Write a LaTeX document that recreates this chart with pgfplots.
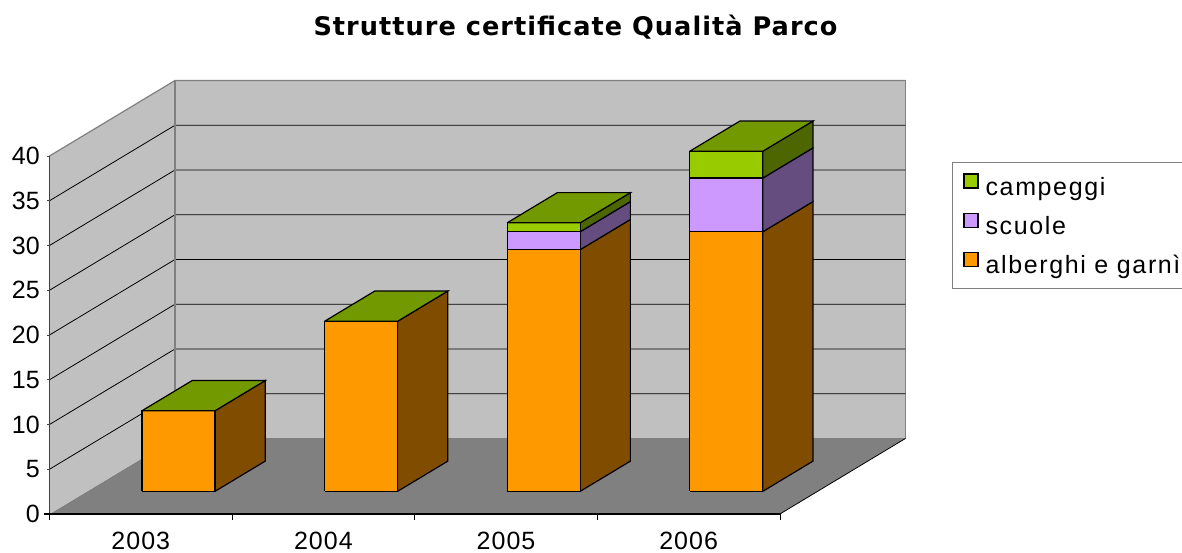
\documentclass[border=0pt]{standalone}
\usepackage{pgfplots}
\pgfplotsset{compat=1.18}
\usepackage{fontspec}
\setmainfont{Liberation Sans}
\newfontfamily\lblfont[LetterSpace=4]{Liberation Sans}
\newfontfamily\legfont[LetterSpace=6.5]{Liberation Sans}
\newfontfamily\titlefont[LetterSpace=4]{DejaVu Sans}
\definecolor{oF}{HTML}{FF9900}\definecolor{oS}{HTML}{804D00}
\definecolor{lF}{HTML}{CC99FF}\definecolor{lS}{HTML}{664D80}
\definecolor{gF}{HTML}{99CC00}\definecolor{gS}{HTML}{4D6600}\definecolor{gT}{HTML}{739900}
\definecolor{wall}{HTML}{C0C0C0}\definecolor{flr}{HTML}{808080}
% one stacked segment: x0, x1, z0, z1, front colour, side colour
\newcommand\seg[6]{%
  \addplot3[draw=black,line width=1.2pt,fill=#6,forget plot] coordinates {(#2,0.3,#3)(#2,0.7,#3)(#2,0.7,#4)(#2,0.3,#4)(#2,0.3,#3)};
  \addplot3[draw=black,line width=1.2pt,fill=#5,forget plot] coordinates {(#1,0.3,#3)(#2,0.3,#3)(#2,0.3,#4)(#1,0.3,#4)(#1,0.3,#3)};
}
% top of a bar: x0, x1, z
\newcommand\topf[3]{%
  \addplot3[draw=black,line width=1.2pt,fill=gT,forget plot] coordinates {(#1,0.3,#3)(#2,0.3,#3)(#2,0.7,#3)(#1,0.7,#3)(#1,0.3,#3)};
}
\newcommand\gl[1]{%
  \addplot3[black,line width=0.8pt,forget plot] coordinates {(0,0,#1)(0,1,#1)(4,1,#1)};
  \addplot3[black!75,line width=0.8pt,forget plot] coordinates {(0,0,#1)(-0.012,0,#1)};
  \node[anchor=east,inner sep=0pt,font=\fontsize{25}{28}\selectfont] at (axis cs:-0.052,0,#1) {#1};
}
\newcommand\xl[2]{%
  \node[inner sep=0pt,font=\lblfont\fontsize{25}{28}\selectfont] at (axis cs:#1,0,-3.0) {#2};
}
\begin{document}
\begin{tikzpicture}
\path[use as bounding box] (0,0) rectangle (1182pt,553pt);
\node[anchor=center] at (575.5pt,526pt) {\titlefont\bfseries\fontsize{25.6}{30}\selectfont Strutture certificate Qualità Parco};
\begin{axis}[
  at={(49.5pt,39pt)},anchor=origin,
  x={(182.6pt,0pt)},y={(125.5pt,75.5pt)},z={(0pt,8.95pt)},
  xmin=0,xmax=4,ymin=0,ymax=1,zmin=0,zmax=40,
  clip=false,
  axis line style={draw=none},
  xtick=\empty,ytick=\empty,ztick=\empty,
  legend cell align=left,
  legend style={at={(axis cs:4.942,0,39.33)},anchor=north west,draw=flr,line width=1pt,
    fill=white,inner xsep=11pt,inner ysep=11pt,
    font=\legfont\fontsize{25}{28}\selectfont,row sep=13.7pt,column sep=5pt},
  legend image code/.code={\draw[#1,line width=1.2pt] (0pt,-1pt) rectangle (14pt,13pt);},
]
% floor and walls
\addplot3[draw=none,fill=flr,forget plot] coordinates {(0,0,0)(4,0,0)(4,1,0)(0,1,0)(0,0,0)};
\addplot3[draw=flr,line width=1.2pt,fill=wall,forget plot] coordinates {(0,1,0)(4,1,0)(4,1,40)(0,1,40)(0,1,0)};
\addplot3[draw=none,fill=wall,forget plot] coordinates {(0,0,0)(0,1,0)(0,1,40)(0,0,40)(0,0,0)};
\gl{5}\gl{10}\gl{15}\gl{20}\gl{25}\gl{30}\gl{35}
\addplot3[flr,line width=1.2pt,forget plot] coordinates {(0,0,40)(0,1,40)(4,1,40)};
\addplot3[flr,line width=1.2pt,forget plot] coordinates {(0,1,0)(0,1,40)};
\addplot3[black,line width=0.8pt,forget plot] coordinates {(4,0,0)(4,1,0)};
% axis lines and tick marks
\addplot3[black!75,line width=1pt,forget plot] coordinates {(0,0,0)(0,0,40)};
\addplot3[black,line width=1.1pt,forget plot] coordinates {(-0.03,0,0)(4,0,0)};
\addplot3[black!75,line width=0.8pt,forget plot] coordinates {(0,0,40)(-0.012,0,40)};
\addplot3[black,line width=0.8pt,forget plot] coordinates {(0,0,0)(0,0,-0.65)};
\addplot3[black,line width=0.8pt,forget plot] coordinates {(1,0,0)(1,0,-0.65)};
\addplot3[black,line width=0.8pt,forget plot] coordinates {(2,0,0)(2,0,-0.65)};
\addplot3[black,line width=0.8pt,forget plot] coordinates {(3,0,0)(3,0,-0.65)};
\addplot3[black,line width=0.8pt,forget plot] coordinates {(4,0,0)(4,0,-0.65)};
% labels
\node[anchor=east,inner sep=0pt,font=\fontsize{25}{28}\selectfont] at (axis cs:-0.052,0,0) {0};
\node[anchor=east,inner sep=0pt,font=\fontsize{25}{28}\selectfont] at (axis cs:-0.052,0,40) {40};
\xl{0.5}{2003}\xl{1.5}{2004}\xl{2.5}{2005}\xl{3.5}{2006}
% bars
\seg{0.3}{0.7}{0}{9}{oF}{oS}\topf{0.3}{0.7}{9}
\seg{1.3}{1.7}{0}{19}{oF}{oS}\topf{1.3}{1.7}{19}
\seg{2.3}{2.7}{0}{27}{oF}{oS}\seg{2.3}{2.7}{27}{29}{lF}{lS}\seg{2.3}{2.7}{29}{30}{gF}{gS}\topf{2.3}{2.7}{30}
\seg{3.3}{3.7}{0}{29}{oF}{oS}\seg{3.3}{3.7}{29}{35}{lF}{lS}\seg{3.3}{3.7}{35}{38}{gF}{gS}\topf{3.3}{3.7}{38}
% legend
\addlegendimage{draw=black,fill=gF}\addlegendentry{campeggi}
\addlegendimage{draw=black,fill=lF}\addlegendentry{scuole}
\addlegendimage{draw=black,fill=oF}\addlegendentry{alberghi e garnì}
\end{axis}
\end{tikzpicture}
\end{document}
